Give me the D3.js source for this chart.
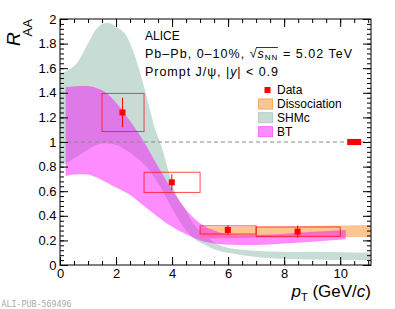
<!DOCTYPE html>
<html>
<head>
<meta charset="utf-8">
<script src="https://cdn.jsdelivr.net/npm/d3@7"></script>
<style>
  body { margin: 0; background: #fff; }
  text { font-family: "Liberation Sans", Arial, Helvetica, sans-serif; }
</style>
</head>
<body>
<div id="chart"></div>
<script>
// measured points (ALICE prompt J/psi R_AA, 0-10%)
const ptData = [2.23, 3.99, 5.99, 8.48];
const raaData = [1.24, 0.672, 0.285, 0.271];
const statErr = [0.12, 0.065, 0.04, 0.05];
const systErr = [0.155, 0.082, 0.033, 0.038];
const binLo = [1.5, 3, 5, 7];
const binHi = [3, 5, 7, 10];
const globalUnc = 0.025;

// SHMc band
const shmcPt = [0, 0.3, 0.6, 1.0, 1.3, 1.67, 2.0, 2.38, 2.8, 3.0, 3.2, 3.4, 3.57, 4.1, 4.5, 4.76, 5.2, 5.6, 6.0, 6.5, 7.5, 9, 11.1];
const shmcHi = [1.56, 1.585, 1.64, 1.80, 1.92, 1.97, 1.94, 1.86, 1.61, 1.45, 1.27, 1.10, 1.0, 0.6, 0.44, 0.34, 0.24, 0.17, 0.14, 0.125, 0.11, 0.105, 0.10];
const shmcLo = [0.80, 0.84, 0.88, 0.94, 0.975, 0.99, 0.975, 0.93, 0.86, 0.82, 0.77, 0.70, 0.64, 0.42, 0.28, 0.22, 0.16, 0.12, 0.10, 0.08, 0.055, 0.045, 0.04];

// BT band
const btPt = [0.2, 0.5, 0.9, 1.5, 2.0, 2.5, 3.0, 3.5, 4.0, 4.5, 5.0, 5.5, 6.0, 7.0, 8.0, 9.0, 10.2];
const btHi = [1.445, 1.452, 1.455, 1.42, 1.32, 1.17, 1.0, 0.80, 0.61, 0.45, 0.34, 0.28, 0.25, 0.245, 0.255, 0.27, 0.285];
const btLo = [0.724, 0.735, 0.737, 0.69, 0.63, 0.57, 0.48, 0.39, 0.31, 0.25, 0.20, 0.175, 0.165, 0.163, 0.175, 0.19, 0.21];

// Dissociation band
const dissPt = [5, 7, 9, 11.1];
const dissHi = [0.305, 0.31, 0.318, 0.325];
const dissLo = [0.215, 0.222, 0.225, 0.228];

const xMajor = [0, 2, 4, 6, 8, 10];
const yMajor = d3.range(0, 2.001, 0.2);
const legendLabels = ["Data", "Dissociation", "SHMc", "BT"];

function chart() {
  var w = 395, h = 309;
  var x0 = 60, x1 = 371, yTop = 19, yBot = 265;

  var svg = d3.select("#chart").append("svg")
    .attr("width", w).attr("height", h);

  var x = d3.scaleLinear().domain([0, 11.1]).range([x0, x1]);
  var y = d3.scaleLinear().domain([0, 2]).range([yBot, yTop]);

  svg.append("clipPath").attr("id", "frame")
    .append("rect").attr("x", x0).attr("y", yTop)
    .attr("width", x1 - x0).attr("height", yBot - yTop);

  var plot = svg.append("g").attr("clip-path", "url(#frame)");

  // build a band from three arrays
  function band(pts, hi, lo) {
    return pts.map((p, i) => ({ p: p, hi: hi[i], lo: lo[i] }));
  }
  var area = d3.area()
    .x((d) => x(d.p))
    .y0((d) => y(d.lo))
    .y1((d) => y(d.hi))
    .curve(d3.curveMonotoneX);

  plot.append("path").datum(band(shmcPt, shmcHi, shmcLo))
    .attr("d", area).attr("fill", "#c6dcd5");

  plot.append("path").datum(band(dissPt, dissHi, dissLo))
    .attr("d", area).attr("fill", "#fdc590");

  plot.append("path").datum(band(btPt, btHi, btLo))
    .attr("d", area).attr("fill", "#ff00ff").attr("fill-opacity", 0.45);

  // dashed unity line
  plot.append("line")
    .attr("x1", x(0)).attr("x2", x(11.1))
    .attr("y1", y(1)).attr("y2", y(1))
    .attr("stroke", "#888").attr("stroke-dasharray", "4,3");

  // global uncertainty box
  plot.append("rect")
    .attr("x", x(10.25)).attr("width", x(10.75) - x(10.25))
    .attr("y", y(1 + globalUnc)).attr("height", y(1 - globalUnc) - y(1 + globalUnc))
    .attr("fill", "#ff0000");

  // systematic boxes
  plot.selectAll(".syst").data(ptData).enter().append("rect")
    .attr("x", (d, i) => x(binLo[i]))
    .attr("width", (d, i) => x(binHi[i]) - x(binLo[i]))
    .attr("y", (d, i) => y(raaData[i] + systErr[i]))
    .attr("height", (d, i) => y(raaData[i] - systErr[i]) - y(raaData[i] + systErr[i]))
    .attr("fill", "none").attr("stroke", "#ff0000").attr("stroke-opacity", 0.7);

  // stat error bars
  plot.selectAll(".stat").data(ptData).enter().append("line")
    .attr("x1", (d) => x(d)).attr("x2", (d) => x(d))
    .attr("y1", (d, i) => y(raaData[i] + statErr[i]))
    .attr("y2", (d, i) => y(raaData[i] - statErr[i]))
    .attr("stroke", "#ff0000");

  plot.selectAll(".pt").data(ptData).enter().append("rect")
    .attr("x", (d) => x(d) - 3).attr("y", (d, i) => y(raaData[i]) - 3)
    .attr("width", 6).attr("height", 6).attr("fill", "#ff0000");

  // axes, ticks inside like ROOT
  function styleAxis(g) {
    g.select(".domain").remove();
    g.selectAll("line").attr("stroke", "#000");
    g.selectAll("text").attr("font-size", "13px").attr("fill", "#000")
      .style("font-family", "'Liberation Sans', Arial, sans-serif");
  }
  var xMinor = d3.range(0, 11.1, 0.5);
  var yMinor = d3.range(0, 2.001, 0.04);

  svg.append("g").attr("transform", `translate(0,${yBot})`)
    .call(d3.axisBottom(x).tickValues(xMinor).tickSize(-4).tickFormat(""))
    .call(styleAxis);
  svg.append("g").attr("transform", `translate(0,${yBot})`)
    .call(d3.axisBottom(x).tickValues(xMajor).tickSize(-8).tickPadding(4).tickFormat(d3.format("d")))
    .call(styleAxis);
  svg.append("g").attr("transform", `translate(0,${yTop})`)
    .call(d3.axisTop(x).tickValues(xMinor).tickSize(-4).tickFormat(""))
    .call(styleAxis);
  svg.append("g").attr("transform", `translate(0,${yTop})`)
    .call(d3.axisTop(x).tickValues(xMajor).tickSize(-8).tickFormat(""))
    .call(styleAxis);

  svg.append("g").attr("transform", `translate(${x0},0)`)
    .call(d3.axisLeft(y).tickValues(yMinor).tickSize(-4).tickFormat(""))
    .call(styleAxis);
  svg.append("g").attr("transform", `translate(${x0},0)`)
    .call(d3.axisLeft(y).tickValues(yMajor).tickSize(-8).tickPadding(3.5)
      .tickFormat((d) => (Math.abs(d) < 1e-9 ? "0" : d3.format("~g")(+d.toFixed(1)))))
    .call(styleAxis);
  svg.append("g").attr("transform", `translate(${x1},0)`)
    .call(d3.axisRight(y).tickValues(yMinor).tickSize(-4).tickFormat(""))
    .call(styleAxis);
  svg.append("g").attr("transform", `translate(${x1},0)`)
    .call(d3.axisRight(y).tickValues(yMajor).tickSize(-8).tickFormat(""))
    .call(styleAxis);

  // frame
  svg.append("rect").attr("x", x0).attr("y", yTop)
    .attr("width", x1 - x0).attr("height", yBot - yTop)
    .attr("fill", "none").attr("stroke", "#000");

  // axis titles
  svg.append("text").attr("transform", "translate(20,46) rotate(-90)")
    .attr("font-size", "19px").attr("font-style", "italic").text("R");
  svg.append("text").attr("transform", "translate(31.5,36.5) rotate(-90)")
    .attr("font-size", "13px").text("AA");

  var xt = svg.append("text").attr("x", x1).attr("y", 297)
    .attr("text-anchor", "end").attr("font-size", "17px");
  xt.append("tspan").attr("font-style", "italic").text("p");
  xt.append("tspan").attr("font-size", "11px").attr("dy", 4).text("T");
  xt.append("tspan").attr("dy", -4).text("  (GeV/");
  xt.append("tspan").attr("font-style", "italic").text("c");
  xt.append("tspan").text(")");

  // header
  svg.append("text").attr("x", 145).attr("y", 39.5).attr("font-size", "12px").text("ALICE");
  var l2 = svg.append("text").attr("x", 145).attr("y", 57.5).attr("font-size", "12.5px")
    .attr("textLength", 207).attr("lengthAdjust", "spacing");
  l2.append("tspan").text("Pb\u2013Pb, 0\u201310%, \u221A");
  l2.append("tspan").attr("font-style", "italic").text("s");
  l2.append("tspan").attr("font-size", "8px").attr("dy", 2.5).text("NN");
  l2.append("tspan").attr("dy", -2.5).text(" = 5.02 TeV");
  var node = l2.node();
  var sIdx = "Pb\u2013Pb, 0\u201310%, \u221A".length;
  var a = node.getExtentOfChar(sIdx - 1);
  var b = node.getExtentOfChar(sIdx + 2);
  svg.append("line")
    .attr("x1", a.x + a.width - 0.5).attr("x2", b.x + b.width + 0.5)
    .attr("y1", a.y + 1).attr("y2", a.y + 1)
    .attr("stroke", "#000").attr("stroke-width", 0.8);

  var l3 = svg.append("text").attr("x", 145).attr("y", 75.5).attr("font-size", "12.5px")
    .attr("textLength", 133).attr("lengthAdjust", "spacing");
  l3.append("tspan").text("Prompt J/\u03C8, |");
  l3.append("tspan").attr("font-style", "italic").text("y");
  l3.append("tspan").text("| < 0.9");

  // legend
  var lg = svg.append("g");
  var rowY = [90, 104, 117.7, 131.7];
  lg.append("rect").attr("x", 264.5).attr("y", rowY[0] - 3)
    .attr("width", 6).attr("height", 6).attr("fill", "#ff0000");
  var boxFill = ["#fdc590", "#c6dcd5", "#ff8cff"];
  var boxStroke = ["#f2a860", "#b5cfc7", "#ff66ff"];
  boxFill.forEach((c, i) => {
    lg.append("rect").attr("x", 258.5).attr("y", rowY[i + 1] - 5)
      .attr("width", 14).attr("height", 10)
      .attr("fill", c).attr("stroke", boxStroke[i]);
  });
  lg.selectAll(".lt").data(legendLabels).enter().append("text")
    .attr("x", 277).attr("y", (d, i) => rowY[i] + 4.3)
    .attr("font-size", "12px").text((d) => d);

  // watermark
  svg.append("text").attr("x", 1.5).attr("y", 306.5)
    .style("font-family", "'DejaVu Sans Mono', monospace")
    .attr("font-size", "8.3px").attr("fill", "#aaa").text("ALI-PUB-569496");
}

chart();
</script>
</body>
</html>
